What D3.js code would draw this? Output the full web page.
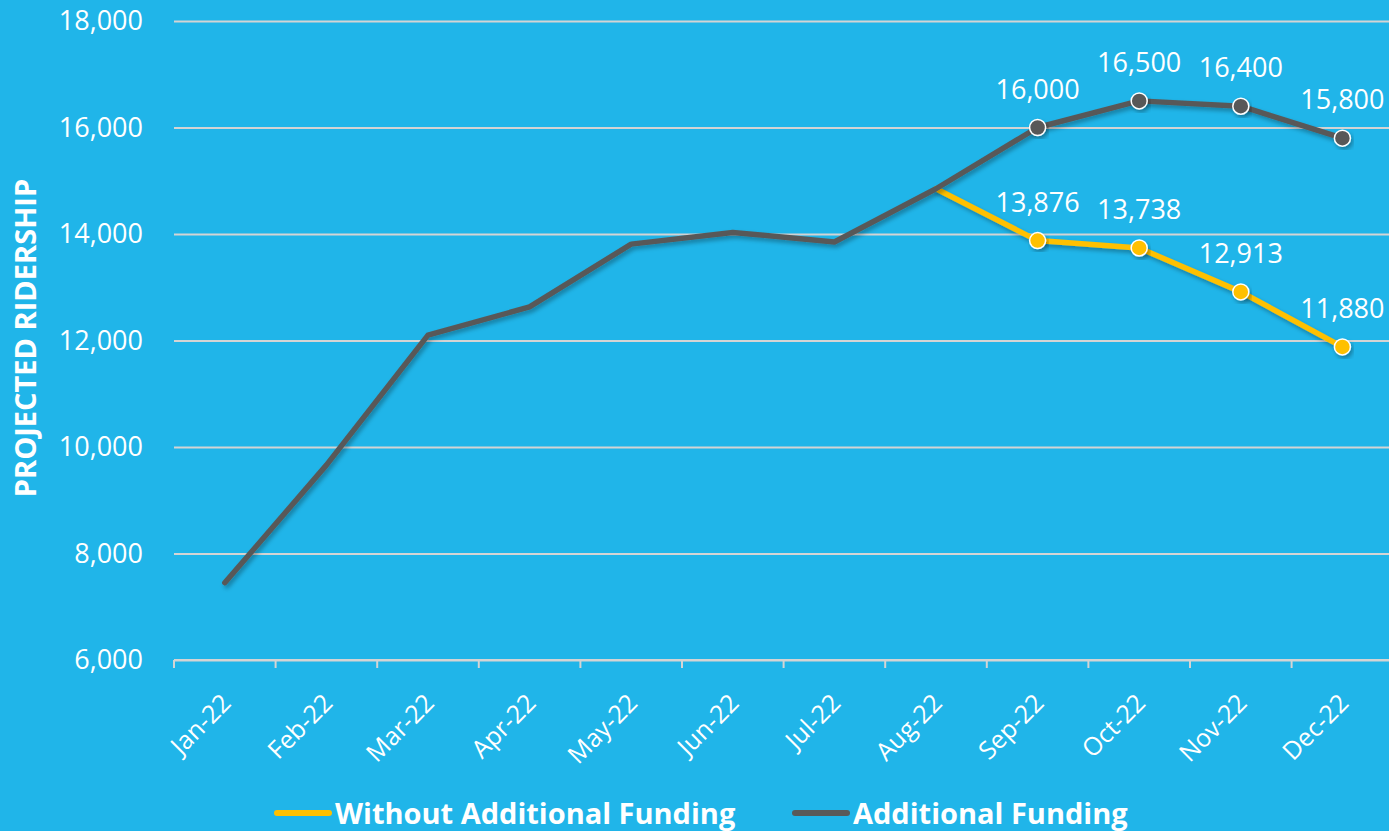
<!DOCTYPE html>
<html>
<head>
<meta charset="utf-8">
<script src="https://cdn.jsdelivr.net/npm/d3@7"></script>
<style>
  html, body { margin: 0; padding: 0; background: #20B5E9; overflow: hidden; }
  svg { display: block; font-family: "Open Sans", sans-serif; }
</style>
</head>
<body>
<svg id="chart" width="1389" height="831"></svg>
<script>
// ---- data ----
const months = ["Jan-22","Feb-22","Mar-22","Apr-22","May-22","Jun-22","Jul-22","Aug-22","Sep-22","Oct-22","Nov-22","Dec-22"];
const additionalFunding = [7450, 9660, 12100, 12630, 13810, 14030, 13850, 14850, 16000, 16500, 16400, 15800];
const withoutFunding    = [null, null, null, null, null, null, null, 14850, 13876, 13738, 12913, 11880];
const yTicks = [6000, 8000, 10000, 12000, 14000, 16000, 18000];
const labeledMonths = ["Sep-22","Oct-22","Nov-22","Dec-22"];
const seriesNames = ["Without Additional Funding", "Additional Funding"];

// ---- layout ----
const W = 1389, H = 831;
const plotLeft = 174, bandW = 101.6, plotTop = 21, plotBottom = 660;
const bg = "#20B5E9", grid = "#D4D4D4", gray = "#595959", yellow = "#FFC000";

const svg = d3.select("#chart");
svg.append("rect").attr("width", W).attr("height", H).attr("fill", bg);

const defs = svg.append("defs");
const f = defs.append("filter").attr("id", "shadow").attr("x", "-10%").attr("y", "-10%").attr("width", "130%").attr("height", "130%");
f.append("feDropShadow").attr("dx", 2).attr("dy", 3).attr("stdDeviation", 2)
  .attr("flood-color", "#000").attr("flood-opacity", 0.3);

const x = d3.scaleBand().domain(months).range([plotLeft, plotLeft + bandW * months.length]).paddingInner(0).paddingOuter(0);
const y = d3.scaleLinear().domain([6000, 18000]).range([plotBottom, plotTop]);
const cx = d => x(d) + x.bandwidth() / 2;

// gridlines + y labels
const yAxis = d3.axisLeft(y).tickValues(yTicks).tickFormat(d3.format(",")).tickSize(-(W - plotLeft)).tickPadding(31);
const gy = svg.append("g").attr("transform", `translate(${plotLeft},0)`).call(yAxis);
gy.select(".domain").remove();
gy.selectAll(".tick line").attr("stroke", grid).attr("stroke-width", 2);
gy.selectAll(".tick text").attr("fill", "#fff").attr("font-size", 27).attr("font-family", "Open Sans");

// x axis
const xAxis = d3.axisBottom(x).tickSize(8).tickSizeOuter(0).tickPadding(0);
const gx = svg.append("g").attr("transform", `translate(0,${plotBottom})`).call(xAxis);
gx.select(".domain").attr("stroke", grid).attr("stroke-width", 2)
  .attr("d", `M${plotLeft},0H${W}`);
gx.selectAll(".tick line").attr("stroke", grid).attr("stroke-width", 2)
  .attr("x1", -x.bandwidth() / 2).attr("x2", -x.bandwidth() / 2);
gx.selectAll(".tick text")
  .attr("fill", "#fff").attr("font-size", 25).attr("font-family", "Open Sans")
  .attr("text-anchor", "end").attr("dy", 0)
  .attr("transform", "translate(2,39) rotate(-45)");

// y title
svg.append("text")
  .attr("transform", `translate(36,338) rotate(-90)`)
  .attr("text-anchor", "middle")
  .attr("fill", "#fff").attr("font-weight", 700).attr("font-size", 29)
  .text("PROJECTED RIDERSHIP");

// lines
const line = d3.line().defined(d => d.v != null).x(d => cx(d.m)).y(d => y(d.v));
const withoutData = months.map((m, i) => ({ m, v: withoutFunding[i] }));
const addData = months.map((m, i) => ({ m, v: additionalFunding[i] }));

svg.append("path").datum(withoutData).attr("d", line)
  .attr("fill", "none").attr("stroke", yellow).attr("stroke-width", 5.5)
  .attr("stroke-linejoin", "round").attr("stroke-linecap", "round").attr("filter", "url(#shadow)");
svg.append("path").datum(addData).attr("d", line)
  .attr("fill", "none").attr("stroke", gray).attr("stroke-width", 5.5)
  .attr("stroke-linejoin", "round").attr("stroke-linecap", "round").attr("filter", "url(#shadow)");

// markers + labels
function drawPoints(data, color) {
  const pts = data.filter(d => labeledMonths.includes(d.m) && d.v != null);
  svg.append("g").selectAll("circle").data(pts).join("circle")
    .attr("cx", d => cx(d.m)).attr("cy", d => y(d.v)).attr("r", 8)
    .attr("fill", color).attr("stroke", "#fff").attr("stroke-width", 1.5)
    .attr("filter", "url(#shadow)");
  svg.append("g").selectAll("text").data(pts).join("text")
    .attr("x", d => cx(d.m)).attr("y", d => y(d.v) - 29)
    .attr("text-anchor", "middle").attr("fill", "#fff").attr("font-size", 27)
    .text(d => d3.format(",")(d.v));
}
drawPoints(withoutData, yellow);
drawPoints(addData, gray);

// legend
const legendItems = [
  { name: seriesNames[0], color: yellow, x: 274 },
  { name: seriesNames[1], color: gray, x: 792 }
];
const lg = svg.append("g");
legendItems.forEach(it => {
  lg.append("line").attr("x1", it.x + 3).attr("x2", it.x + 55).attr("y1", 813).attr("y2", 813)
    .attr("stroke", it.color).attr("stroke-width", 6).attr("stroke-linecap", "round");
  lg.append("text").attr("x", it.x + 61).attr("y", 824)
    .attr("fill", "#fff").attr("font-weight", 700).attr("font-size", 29)
    .text(it.name);
});
</script>
</body>
</html>
